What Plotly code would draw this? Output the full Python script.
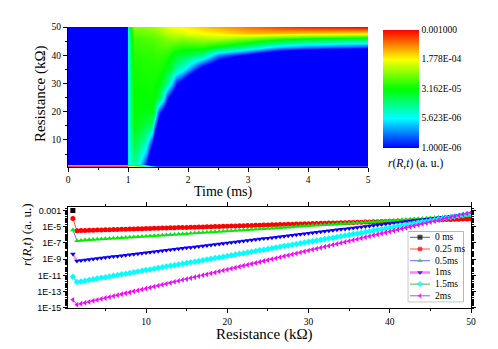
import plotly.graph_objects as go

# ---------------- data ----------------
# heatmap: time (ms), resistance (kOhm), log10 r(R,t) per time column
heat_t = [0, 0.995, 1.0, 1.05, 1.1, 1.2, 1.3, 1.4, 1.45, 1.5, 1.58, 1.65, 1.72, 1.8, 1.9,
          2.0, 2.25, 2.5, 3.0, 3.5, 4.0, 5.0]
heat_R = [0.7, 1.5, 5, 10, 15, 20, 25, 30, 35, 40, 43, 46, 48, 50]
heat_logr = [
    [-3.0, -7, -7, -7, -7, -7, -7, -7, -7, -7, -7, -7, -7, -7],
    [-3.0, -7, -7, -7, -7, -7, -7, -7, -7, -7, -7, -7, -7, -7],
    [-3.6, -5.3, -5.3, -5.3, -5.3, -5.3, -5.3, -5.3, -5.25, -5.2, -5.2, -5.15, -5.1, -5.05],
    [-3.7, -5.1, -5.0, -4.9, -4.8, -4.75, -4.72, -4.7, -4.68, -4.65, -4.62, -4.58, -4.52, -4.45],
    [-3.8, -4.95, -4.8, -4.65, -4.55, -4.5, -4.5, -4.47, -4.45, -4.4, -4.35, -4.3, -4.2, -4.1],
    [-4.3, -5.3, -5.05, -4.8, -4.6, -4.52, -4.5, -4.47, -4.45, -4.4, -4.35, -4.3, -4.2, -4.1],
    [-4.9, -5.95, -5.45, -5.0, -4.7, -4.55, -4.5, -4.47, -4.42, -4.38, -4.33, -4.27, -4.18, -4.08],
    [-5.5, -6.9, -6.48, -5.75, -4.84, -4.54, -4.48, -4.45, -4.42, -4.38, -4.33, -4.25, -4.15, -4.05],
    [-5.8, -7.5, -7.08, -6.48, -5.75, -4.84, -4.54, -4.47, -4.42, -4.36, -4.3, -4.22, -4.12, -4.02],
    [-6.1, -7.9, -7.5, -6.9, -6.3, -5.67, -4.66, -4.5, -4.42, -4.35, -4.28, -4.2, -4.08, -3.98],
    [-6.5, -8.4, -8.0, -7.4, -6.8, -6.2, -5.13, -4.64, -4.47, -4.37, -4.27, -4.15, -4.02, -3.9],
    [-6.8, -8.8, -8.4, -7.8, -7.2, -6.55, -5.88, -4.91, -4.6, -4.4, -4.25, -4.1, -3.95, -3.85],
    [-7.1, -9.1, -8.7, -8.1, -7.5, -6.85, -6.25, -5.25, -4.66, -4.48, -4.3, -4.08, -3.92, -3.8],
    [-7.5, -9.5, -9.0, -8.4, -7.8, -7.15, -6.55, -5.88, -4.97, -4.6, -4.35, -4.05, -3.88, -3.75],
    [-7.9, -10.0, -9.5, -8.9, -8.2, -7.5, -6.8, -6.2, -5.13, -4.66, -4.4, -4.08, -3.87, -3.73],
    [-8.3, -10.8, -10.3, -9.7, -9.0, -8.2, -7.4, -6.6, -5.44, -4.7, -4.4, -4.05, -3.8, -3.7],
    [-9.0, -11.7, -11.2, -10.5, -9.8, -9.0, -8.2, -7.3, -6.3, -4.9, -4.4, -3.98, -3.75, -3.6],
    [-9.7, -12.5, -12.0, -11.3, -10.5, -9.7, -8.8, -7.8, -6.7, -5.6, -4.55, -3.95, -3.7, -3.5],
    [-10.8, -13.5, -13.0, -12.3, -11.5, -10.6, -9.6, -8.6, -7.5, -6.1, -4.9, -4.1, -3.55, -3.35],
    [-11.8, -15.4, -14.8, -13.9, -13.0, -12.0, -10.8, -9.6, -8.3, -6.7, -5.4, -4.3, -3.55, -3.2],
    [-12.8, -16.2, -15.6, -14.7, -13.7, -12.6, -11.4, -10.1, -8.7, -7.0, -5.6, -4.45, -3.6, -3.1],
    [-14.8, -17.3, -16.6, -15.6, -14.5, -13.3, -12.0, -10.5, -9.0, -7.2, -5.8, -4.6, -3.65, -3.0],
]
cbar_vals = [-6, -5.25, -4.5, -3.75, -3]
cbar_text = ["1.000E-06", "5.623E-06", "3.162E-05", "1.778E-04", "0.001000"]

# profiles: resistance (kOhm) and log10 r at each R
resistance = [1, 1.5, 2, 2.5, 3, 3.5, 4, 4.5, 5, 5.5, 6, 6.5, 7, 7.5, 8, 8.5, 9, 9.5, 10, 10.5,
              11, 11.5, 12, 12.5, 13, 13.5, 14, 14.5, 15, 15.5, 16, 16.5, 17, 17.5, 18, 18.5, 19, 19.5, 20, 20.5,
              21, 21.5, 22, 22.5, 23, 23.5, 24, 24.5, 25, 25.5, 26, 26.5, 27, 27.5, 28, 28.5, 29, 29.5, 30, 30.5,
              31, 31.5, 32, 32.5, 33, 33.5, 34, 34.5, 35, 35.5, 36, 36.5, 37, 37.5, 38, 38.5, 39, 39.5, 40, 40.5,
              41, 41.5, 42, 42.5, 43, 43.5, 44, 44.5, 45, 45.5, 46, 46.5, 47, 47.5, 48, 48.5, 49, 49.5, 50]

res_0ms = [1]
logr_0ms = [-3.0]

logr_025ms = [-3.99,
              -5.48, -5.465, -5.45, -5.435, -5.42, -5.405, -5.39, -5.375, -5.36, -5.345,
              -5.33, -5.315, -5.3, -5.285, -5.27, -5.255, -5.24, -5.225, -5.21, -5.195,
              -5.18, -5.165, -5.15, -5.135, -5.12, -5.105, -5.09, -5.075, -5.06, -5.045,
              -5.03, -5.015, -5.0, -4.985, -4.97, -4.955, -4.94, -4.925, -4.91, -4.895,
              -4.88, -4.865, -4.85, -4.835, -4.82, -4.805, -4.79, -4.775, -4.76, -4.745,
              -4.73, -4.715, -4.7, -4.685, -4.67, -4.655, -4.64, -4.625, -4.61, -4.595,
              -4.58, -4.565, -4.55, -4.535, -4.52, -4.505, -4.49, -4.475, -4.46, -4.445,
              -4.43, -4.415, -4.4, -4.385, -4.37, -4.355, -4.34, -4.325, -4.31, -4.295,
              -4.28, -4.265, -4.25, -4.235, -4.22, -4.205, -4.19, -4.175, -4.16, -4.145,
              -4.13, -4.115, -4.1, -4.085, -4.07, -4.055, -4.04, -4.025]

logr_05ms = [-5.39,
             -6.71, -6.678, -6.646, -6.614, -6.582, -6.55, -6.518, -6.486, -6.454, -6.422,
             -6.39, -6.358, -6.326, -6.294, -6.262, -6.23, -6.198, -6.166, -6.134, -6.102,
             -6.07, -6.038, -6.006, -5.974, -5.942, -5.91, -5.878, -5.846, -5.814, -5.782,
             -5.75, -5.718, -5.686, -5.654, -5.622, -5.59, -5.558, -5.526, -5.494, -5.462,
             -5.43, -5.398, -5.366, -5.334, -5.302, -5.27, -5.238, -5.206, -5.174, -5.142,
             -5.11, -5.078, -5.046, -5.014, -4.982, -4.95, -4.918, -4.886, -4.854, -4.822,
             -4.79, -4.758, -4.726, -4.694, -4.662, -4.63, -4.598, -4.566, -4.534, -4.502,
             -4.47, -4.438, -4.406, -4.374, -4.342, -4.31, -4.278, -4.246, -4.214, -4.182,
             -4.15, -4.118, -4.086, -4.054, -4.022, -3.99, -3.958, -3.926, -3.894, -3.862,
             -3.83, -3.798, -3.766, -3.734, -3.702, -3.67, -3.638, -3.606]

logr_1ms = [-8.36,
            -9.22, -9.16, -9.10, -9.04, -8.98, -8.92, -8.86, -8.80, -8.74, -8.68,
            -8.62, -8.56, -8.50, -8.44, -8.38, -8.32, -8.26, -8.20, -8.14, -8.08,
            -8.02, -7.96, -7.90, -7.84, -7.78, -7.72, -7.66, -7.60, -7.54, -7.48,
            -7.42, -7.36, -7.30, -7.24, -7.18, -7.12, -7.06, -7.00, -6.94, -6.88,
            -6.82, -6.76, -6.70, -6.64, -6.58, -6.52, -6.46, -6.40, -6.34, -6.28,
            -6.22, -6.16, -6.10, -6.04, -5.98, -5.92, -5.86, -5.80, -5.74, -5.68,
            -5.62, -5.56, -5.50, -5.44, -5.38, -5.32, -5.26, -5.20, -5.14, -5.08,
            -5.02, -4.96, -4.90, -4.84, -4.78, -4.72, -4.66, -4.60, -4.54, -4.48,
            -4.42, -4.36, -4.30, -4.24, -4.18, -4.12, -4.06, -4.00, -3.94, -3.88,
            -3.82, -3.76, -3.70, -3.64, -3.58, -3.52, -3.46, -3.40]

logr_15ms = [-11.17,
             -11.82, -11.733, -11.646, -11.559, -11.472, -11.385, -11.298, -11.211, -11.124, -11.037,
             -10.95, -10.863, -10.776, -10.689, -10.602, -10.515, -10.428, -10.341, -10.254, -10.167,
             -10.08, -9.993, -9.906, -9.819, -9.732, -9.645, -9.558, -9.471, -9.384, -9.297,
             -9.21, -9.123, -9.036, -8.949, -8.862, -8.775, -8.688, -8.601, -8.514, -8.427,
             -8.34, -8.253, -8.166, -8.079, -7.992, -7.905, -7.818, -7.731, -7.644, -7.557,
             -7.47, -7.383, -7.296, -7.209, -7.122, -7.035, -6.948, -6.861, -6.774, -6.687,
             -6.6, -6.513, -6.426, -6.339, -6.252, -6.165, -6.078, -5.991, -5.904, -5.817,
             -5.73, -5.643, -5.556, -5.469, -5.382, -5.295, -5.208, -5.121, -5.034, -4.947,
             -4.86, -4.773, -4.686, -4.599, -4.512, -4.425, -4.338, -4.251, -4.164, -4.077,
             -3.99, -3.903, -3.816, -3.729, -3.642, -3.555, -3.468, -3.381]

logr_2ms = [-14.0,
            -14.6, -14.483, -14.366, -14.249, -14.132, -14.015, -13.898, -13.781, -13.664, -13.547,
            -13.43, -13.313, -13.196, -13.079, -12.962, -12.845, -12.728, -12.611, -12.494, -12.377,
            -12.26, -12.143, -12.026, -11.909, -11.792, -11.675, -11.558, -11.441, -11.324, -11.207,
            -11.09, -10.973, -10.856, -10.739, -10.622, -10.505, -10.388, -10.271, -10.154, -10.037,
            -9.92, -9.803, -9.686, -9.569, -9.452, -9.335, -9.218, -9.101, -8.984, -8.867,
            -8.75, -8.633, -8.516, -8.399, -8.282, -8.165, -8.048, -7.931, -7.814, -7.697,
            -7.58, -7.463, -7.346, -7.229, -7.112, -6.995, -6.878, -6.761, -6.644, -6.527,
            -6.41, -6.293, -6.176, -6.059, -5.942, -5.825, -5.708, -5.591, -5.474, -5.357,
            -5.24, -5.123, -5.006, -4.889, -4.772, -4.655, -4.538, -4.421, -4.304, -4.187,
            -4.07, -3.953, -3.836, -3.719, -3.602, -3.485, -3.368, -3.251]

series_names = ["0 ms", "0.25 ms", "0.5ms", "1ms", "1.5ms", "2ms"]
y_tickvals = [1e-3, 1e-5, 1e-7, 1e-9, 1e-11, 1e-13, 1e-15]
y_ticktext = ["0.001", "1E-5", "1E-7", "1E-9", "1E-11", "1E-13", "1E-15"]

# ---------------- styles ----------------
SERIF = "Liberation Serif, Times New Roman, serif"
SANS = "Liberation Sans, Arial, sans-serif"
# page is 498x349; the html body adds an 8px margin, so the figure itself is 490x341
OFF = 8
W, H = 490, 341

rainbow = [
    [0.0, "rgb(0,0,255)"],
    [0.25, "rgb(0,255,255)"],
    [0.5, "rgb(0,255,0)"],
    [0.75, "rgb(255,255,0)"],
    [1.0, "rgb(255,0,0)"],
]

# (marker color, marker symbol, connecting line color, line width)
styles = [
    ("#000000", "square", "#606060", 1),
    ("#ff0000", "circle", "#ff5050", 1),
    ("#00ee00", "triangle-up", "#6a6aff", 1),
    ("#0000ff", "triangle-down", "#ff80ff", 2),
    ("#00ffff", "diamond", "#50b050", 1),
    ("#ff00ff", "triangle-left", "#7a6aff", 1),
]


def px_x(p):
    # page pixel -> paper fraction
    return (p - OFF) / W


def px_y(p):
    return 1 - (p - OFF) / H


fig = go.Figure()

# heatmap (top)
z = [list(col) for col in zip(*heat_logr)]
fig.add_trace(go.Heatmap(
    x=heat_t, y=heat_R, z=z,
    zmin=-6, zmax=-3, zsmooth="best",
    colorscale=rainbow,
    xaxis="x", yaxis="y",
    colorbar=dict(
        x=px_x(383), xanchor="left", xpad=0,
        y=px_y((29.3 + 147.7) / 2), yanchor="middle", ypad=0,
        len=(147.7 - 29.3) / H, lenmode="fraction",
        thickness=36, outlinewidth=0,
        tickvals=cbar_vals, ticktext=cbar_text, ticks="",
        tickfont=dict(family=SERIF, size=9.5, color="black"),
    ),
    hoverinfo="skip",
))

# profiles (bottom)
all_res = [res_0ms, resistance, resistance, resistance, resistance, resistance]
all_logr = [logr_0ms, logr_025ms, logr_05ms, logr_1ms, logr_15ms, logr_2ms]
for name, xs, lr, (mc, sym, lc, lw) in zip(series_names, all_res, all_logr, styles):
    fig.add_trace(go.Scatter(
        x=xs, y=[10 ** v for v in lr],
        mode="lines+markers", name=name,
        line=dict(color=lc, width=lw),
        marker=dict(color=mc, symbol=sym, size=5, line=dict(width=0)),
        xaxis="x2", yaxis="y2", showlegend=False,
    ))

# hand-made legend box (Origin style, compact rows)
leg_x0, leg_x1, leg_y0, leg_y1 = 408.3, 463.3, 231.7, 301.7
for i, (name, (mc, sym, lc, lw)) in enumerate(zip(series_names, styles)):
    row = 237.3 + 11.7 * i
    fig.add_trace(go.Scatter(
        x=[410, 420, 430], y=[row, row, row],
        mode="lines+markers",
        line=dict(color=lc, width=lw + 0.5 if lw > 1 else lw),
        marker=dict(color=mc, symbol=sym, size=[0, 5, 0], line=dict(width=0)),
        xaxis="x3", yaxis="y3", showlegend=False, hoverinfo="skip",
    ))
    fig.add_annotation(
        x=432.5, y=row, xref="x3", yref="y3", text=name, showarrow=False,
        xanchor="left", yanchor="middle",
        font=dict(family=SERIF, size=9.5, color="black"),
    )

fig.add_shape(type="rect", xref="x3 domain", yref="y3 domain",
              x0=0, x1=1, y0=0, y1=1, line=dict(color="#808080", width=1),
              fillcolor="white", layer="below")

axis_common = dict(
    showline=True, linecolor="black", linewidth=1,
    ticks="outside", ticklen=4, tickwidth=1, tickcolor="black",
    showgrid=False, zeroline=False, automargin=False,
    tickfont=dict(family=SERIF, size=9.5, color="black"),
)

fig.update_layout(
    width=W, height=H,
    margin=dict(l=0, r=0, t=0, b=0),
    paper_bgcolor="white",
    plot_bgcolor="white",
    showlegend=False,
    xaxis=dict(
        domain=[px_x(68), px_x(368)], anchor="y",
        range=[0, 5], dtick=1,
        minor=dict(dtick=0.5, ticks="outside", ticklen=2, tickcolor="black"),
        **axis_common,
    ),
    yaxis=dict(
        domain=[px_y(166.8), px_y(27)], anchor="x",
        range=[0.5, 50], tickvals=[10, 20, 30, 40, 50],
        minor=dict(tickvals=[5, 15, 25, 35, 45], ticks="outside", ticklen=2, tickcolor="black"),
        **axis_common,
    ),
    xaxis2=dict(
        domain=[px_x(68), px_x(471)], anchor="y2",
        range=[0.4, 50], tickvals=[10, 20, 30, 40, 50],
        minor=dict(tickvals=[5, 15, 25, 35, 45], ticks="outside", ticklen=2, tickcolor="black"),
        mirror="allticks",
        **axis_common,
    ),
    yaxis2=dict(
        domain=[px_y(308.3), px_y(207.3)], anchor="x2",
        type="log", range=[-15.05, -2.6],
        tickvals=y_tickvals, ticktext=y_ticktext,
        minor=dict(dtick="D1", ticks="outside", ticklen=2, tickcolor="black"),
        mirror="allticks",
        **{**axis_common, "tickfont": dict(family=SANS, size=9, color="black")},
    ),
    xaxis3=dict(domain=[px_x(leg_x0), px_x(leg_x1)], anchor="y3",
                range=[leg_x0, leg_x1], visible=False, fixedrange=True, automargin=False),
    yaxis3=dict(domain=[px_y(leg_y1), px_y(leg_y0)], anchor="x3",
                range=[leg_y1, leg_y0], visible=False, fixedrange=True, automargin=False),
)

titles = [
    ("Time (ms)", 223, 192, 0, 14, "center"),
    ("Resistance (kΩ)", 40, 94, -90, 15, "center"),
    ("Resistance (kΩ)", 264.5, 334, 0, 15, "center"),
    ("<i>r</i>(<i>R</i>,<i>t</i>) (a. u.)", 26, 235, -90, 13, "center"),
    ("<i>r</i>(<i>R</i>,<i>t</i>) (a. u.)", 386, 163.3, 0, 11.5, "left"),
]
for text, tx, ty, ang, size, anchor in titles:
    fig.add_annotation(
        x=px_x(tx), y=px_y(ty), xref="paper", yref="paper",
        text=text, showarrow=False, textangle=ang,
        xanchor=anchor, yanchor="middle",
        font=dict(family=SERIF, size=size, color="black"),
    )

fig.write_html("out.html")
